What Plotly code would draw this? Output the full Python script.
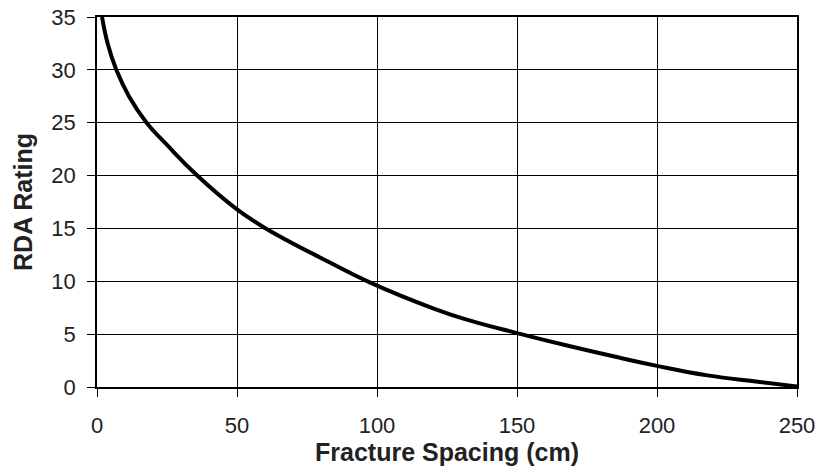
import plotly.graph_objects as go

# values
spacing_cm = [1.8, 3.8, 6.9, 11.4, 17.7, 25, 35.8, 50, 60.3, 83,
              97.4, 121, 133, 150, 169, 187, 200, 218, 236, 250]
rda_rating = [35, 32.5, 30, 27.5, 25, 22.9, 20, 16.8, 15, 11.8,
              9.9, 7.35, 6.3, 5.1, 3.85, 2.75, 2.0, 1.1, 0.5, 0.05]

x_ticks = [0, 50, 100, 150, 200, 250]
y_ticks = [0, 5, 10, 15, 20, 25, 30, 35]

font_name = 'Liberation Sans, Arial'

fig = go.Figure()
fig.add_trace(go.Scatter(x=spacing_cm, y=rda_rating, mode='lines',
                         line=dict(color='black', width=4, shape='spline', smoothing=1.3),
                         showlegend=False))

axis_common = dict(showgrid=True, gridcolor='black', gridwidth=1.4,
                   showline=True, linecolor='black', linewidth=1.5, mirror=True,
                   ticks='outside', ticklen=8, tickcolor='black', tickwidth=1.4,
                   zeroline=False, automargin=False, ticklabeloverflow='allow',
                   tickfont=dict(family=font_name, size=22, color='#222'))

fig.update_xaxes(range=[0, 250], tickvals=x_ticks, ticklabelstandoff=10, **axis_common,
                 title=dict(text='<b>Fracture Spacing (cm)</b>', standoff=6,
                            font=dict(family=font_name, size=25, color='#222')))
fig.update_yaxes(range=[0, 35], tickvals=y_ticks, ticklabelstandoff=7, **axis_common,
                 title=dict(text='<b>RDA Rating</b>', standoff=12,
                            font=dict(family=font_name, size=25, color='#222')))

fig.update_layout(width=826, height=474,
                  margin=dict(l=97, r=29, t=17, b=87),
                  plot_bgcolor='white', paper_bgcolor='white')

# drop the default 8px body margin so the figure fills the window exactly
fig.write_html("out.html", config={'displayModeBar': False},
               post_script="document.body.style.margin = '0';")
